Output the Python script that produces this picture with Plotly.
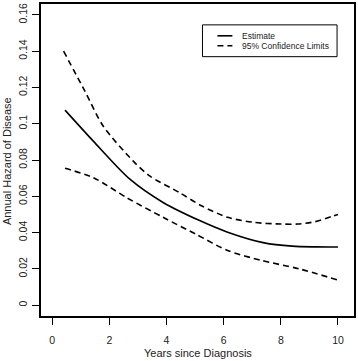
import plotly.graph_objects as go

# Data
est_years = [0.45, 1.44, 2.72, 3.88, 5.16, 6.14, 7.42, 8.4, 9.2, 10.0]
estimate = [0.1075, 0.0904, 0.0694, 0.0566, 0.0466, 0.0402, 0.0343, 0.0325, 0.0321, 0.032]

upper_years = [0.4, 1.15, 1.79, 2.83, 3.41, 4.46, 5.22, 6.14, 7.07, 8.0, 8.6, 9.2, 9.8, 10.0]
upper = [0.140, 0.1178, 0.0986, 0.0795, 0.0712, 0.062, 0.0548, 0.0484, 0.0456, 0.0447,
         0.0447, 0.046, 0.049, 0.050]

lower_years = [0.45, 1.44, 2.6, 3.88, 5.04, 6.14, 7.31, 8.64, 10.0]
lower = [0.0754, 0.0703, 0.0593, 0.0484, 0.039, 0.0301, 0.0247, 0.020, 0.0138]

x_ticks = [0, 2, 4, 6, 8, 10]
y_ticks = [0, 0.02, 0.04, 0.06, 0.08, 0.1, 0.12, 0.14, 0.16]
y_tick_labels = ["0", "0.02", "0.04", "0.06", "0.08", "0.1", "0.12", "0.14", "0.16"]

legend_labels = ["Estimate", "95% Confidence Limits"]
x_title = "Years since Diagnosis"
y_title = "Annual Hazard of Disease"

FONT = "Liberation Sans, Arial, sans-serif"
TXT = "#222222"

fig = go.Figure()
fig.add_trace(go.Scatter(x=est_years, y=estimate, mode="lines",
                         line=dict(color="black", width=1.6, shape="spline", smoothing=0.8),
                         name=legend_labels[0], showlegend=False))
fig.add_trace(go.Scatter(x=upper_years, y=upper, mode="lines",
                         line=dict(color="black", width=1.6, dash="6px,4px", shape="spline", smoothing=0.8),
                         name=legend_labels[1], showlegend=False))
fig.add_trace(go.Scatter(x=lower_years, y=lower, mode="lines",
                         line=dict(color="black", width=1.6, dash="6px,4px", shape="spline", smoothing=0.8),
                         name=legend_labels[1], showlegend=False))

L, R, T, B = 41, 3, 2, 45
W, H = 358, 361
pw, ph = W - L - R, H - T - B

def px(xp):
    return (xp - L) / pw

def py(yp):
    return (H - B - yp) / ph

# manual legend
fig.add_shape(type="rect", xref="paper", yref="paper",
              x0=px(203), x1=px(338), y0=py(55), y1=py(23),
              line=dict(color="black", width=1), fillcolor="white")
fig.add_shape(type="line", xref="paper", yref="paper",
              x0=px(218), x1=px(233), y0=py(34), y1=py(34),
              line=dict(color="black", width=1.6))
fig.add_shape(type="line", xref="paper", yref="paper",
              x0=px(218), x1=px(233), y0=py(44), y1=py(44),
              line=dict(color="black", width=1.6, dash="6px,4px"))
for lab, ypix in zip(legend_labels, [34, 44]):
    fig.add_annotation(xref="paper", yref="paper", x=px(241), y=py(ypix),
                       text=lab, showarrow=False, xanchor="left", yanchor="middle",
                       font=dict(family=FONT, size=8.5, color=TXT))

# axis titles
fig.add_annotation(xref="paper", yref="paper", x=px(198), y=py(353),
                   text=x_title, showarrow=False, xanchor="center", yanchor="middle",
                   font=dict(family=FONT, size=11, color=TXT))
fig.add_annotation(xref="paper", yref="paper", x=px(7), y=py(160),
                   text=y_title, showarrow=False, xanchor="center", yanchor="middle",
                   textangle=-90, font=dict(family=FONT, size=11, color=TXT))

fig.update_layout(
    width=W, height=H,
    margin=dict(l=L, r=R, t=T, b=B, pad=0),
    plot_bgcolor="white", paper_bgcolor="white",
    font=dict(family=FONT, size=10.5, color=TXT),
    xaxis=dict(range=[-0.39, 10.56], tickvals=x_ticks, ticks="outside", ticklen=7,
               tickwidth=1.3, tickcolor="black", showline=True, linecolor="black",
               linewidth=1.5, mirror=True, showgrid=False, zeroline=False,
               ticklabelstandoff=7),
    yaxis=dict(range=[-0.006, 0.166], tickvals=y_ticks, ticktext=y_tick_labels,
               ticks="outside", ticklen=7, tickwidth=1.3, tickcolor="black",
               showline=True, linecolor="black", linewidth=1.5, mirror=True,
               showgrid=False, zeroline=False, tickangle=-90,
               ticklabelstandoff=1),
)

fig.write_html("out.html", config={"displayModeBar": False},
               post_script="document.body.style.margin='0';document.body.style.overflow='hidden';")
